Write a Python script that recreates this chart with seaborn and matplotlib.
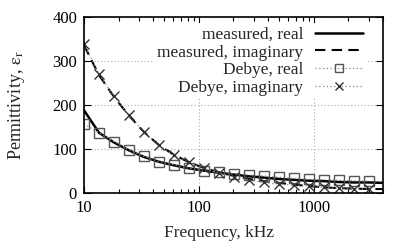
import matplotlib
matplotlib.use("Agg")
import matplotlib.pyplot as plt
import seaborn as sns
import numpy as np
from matplotlib.lines import Line2D
from matplotlib.ticker import LogLocator, NullFormatter, FixedLocator

freq = [10, 13.5, 18.2, 24.6, 33.2, 44.8, 60.5, 81.7, 110, 149, 201, 271,
        366, 494, 667, 900, 1215, 1640, 2220, 3000]
debye_real = [157, 137, 117, 98, 83, 71, 64, 56, 51, 47, 44, 41, 39, 36,
              33, 31, 30, 29, 28, 27]
debye_imag = [338, 270, 220, 177, 139, 109, 86, 70, 56, 46, 37, 30, 24, 20,
              18, 16, 13, 11, 10, 9]
meas_freq = [10, 13.5, 18.2, 24.6, 33.2, 44.8, 60.5, 81.7, 110, 149, 201, 271,
             366, 494, 667, 900, 1215, 1640, 2220, 3000, 4000]
meas_real = [188, 137, 115, 97, 82, 71, 63, 56, 51, 46, 42, 38, 35, 32, 30,
             28, 27, 25, 24, 24, 23]
meas_imag = [336, 268, 219, 176, 139, 109, 87, 70, 57, 47, 39, 32, 27, 23,
             19, 16, 13, 11, 10, 9, 9]

sns.set_theme(style="ticks")
plt.rcParams['font.family'] = ['Liberation Serif', 'DejaVu Serif']
plt.rcParams['mathtext.fontset'] = 'stix'

FS = 12.5
fig = plt.figure(figsize=(4.15, 2.49), dpi=100)
ax = fig.add_axes([0.2024, 0.2249, 0.7205, 0.7068])

sns.lineplot(x=meas_freq, y=meas_real, ax=ax, color='black', lw=1.8, zorder=3)
sns.lineplot(x=meas_freq, y=meas_imag, ax=ax, color='black', lw=1.5,
             linestyle=(0, (5, 3)), zorder=3)
sns.lineplot(x=freq, y=debye_real, ax=ax, color='#888888', lw=0.9,
             linestyle=(0, (1, 2)), marker='s', markersize=6.5,
             markerfacecolor='none', markeredgecolor='#555555',
             markeredgewidth=1.0, zorder=4)
sns.lineplot(x=freq, y=debye_imag, ax=ax, color='#888888', lw=0.9,
             linestyle=(0, (1, 2)), marker='x', markersize=7,
             markeredgecolor='#333333', markeredgewidth=1.0, zorder=4)

ax.set_xscale('log')
ax.set_xlim(10, 4000)
ax.set_ylim(0, 400)
ax.yaxis.set_major_locator(FixedLocator([0, 100, 200, 300, 400]))
ax.xaxis.set_major_locator(FixedLocator([10, 100, 1000]))
ax.xaxis.set_major_formatter(matplotlib.ticker.FuncFormatter(lambda v, p: f"{int(v)}"))
ax.xaxis.set_minor_locator(LogLocator(base=10, subs=np.arange(2, 10)))
ax.xaxis.set_minor_formatter(NullFormatter())

ax.grid(True, which='major', color='#aaaaaa', linestyle=(0, (1, 2)), lw=0.8)

ax.tick_params(which='both', direction='in', top=True, right=True,
               labelsize=12, colors='black', pad=5)
ax.tick_params(which='major', length=5, width=0.8)
ax.tick_params(which='minor', length=3, width=0.8)
for s in ax.spines.values():
    s.set_linewidth(1.2)
    s.set_color('black')
    s.set_zorder(5)

ax.set_xlabel('Frequency, kHz', fontsize=12.5)
ax.set_ylabel(r'Permittivity, $\mathrm{\varepsilon_r}$', fontsize=13)
ax.xaxis.set_label_coords(0.45, -0.18)
ax.yaxis.set_label_coords(-0.19, 0.5)

handles = [
    Line2D([], [], color='black', lw=1.8),
    Line2D([], [], color='black', lw=1.5, linestyle=(0, (5, 3))),
    Line2D([], [], color='#888888', lw=0.9, linestyle=(0, (1, 2)), marker='s',
           markersize=6, markerfacecolor='none', markeredgecolor='#555555'),
    Line2D([], [], color='#888888', lw=0.9, linestyle=(0, (1, 2)), marker='x',
           markersize=6, markeredgecolor='#333333'),
]
labels = ['measured, real', 'measured, imaginary', 'Debye, real', 'Debye, imaginary']
leg = ax.legend(handles, labels, loc='upper right', markerfirst=False,
                frameon=True, fontsize=FS, handlelength=2.75, handletextpad=0.7,
                labelspacing=0.09, borderaxespad=0.0, borderpad=0.2,
                numpoints=1, bbox_to_anchor=(0.945, 0.965))
leg.get_frame().set_facecolor('white')
leg.get_frame().set_edgecolor('none')
leg.get_frame().set_alpha(1.0)
leg.get_frame().set_boxstyle('square', pad=0)

fig.savefig('out.png', dpi=100)
